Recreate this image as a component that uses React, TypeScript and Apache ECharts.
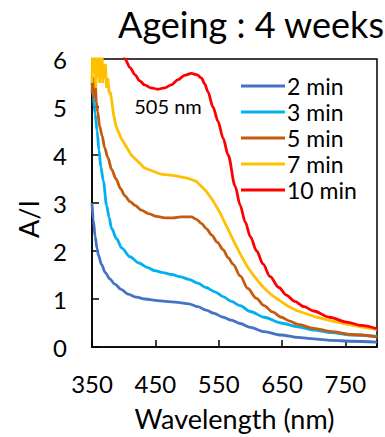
import React, { useEffect, useRef } from "react";
import * as echarts from "echarts";

const seriesNames = ["2 min", "3 min", "5 min", "7 min", "10 min"];
const seriesColors = ["#4472C4", "#00B0F0", "#C55A11", "#FFC000", "#FF0000"];

const min2: [number, number][] = [
  [350, 3.0], [352, 2.65], [355, 2.3], [358, 2.05], [360, 1.92], [365, 1.72], [371, 1.55], [378, 1.42],
  [386, 1.31], [396, 1.2], [407, 1.1], [420, 1.04], [434, 1.0], [450, 0.97], [466, 0.95], [485, 0.93],
  [503, 0.9], [517, 0.84], [530, 0.77], [543, 0.7], [557, 0.62], [570, 0.56], [584, 0.49], [600, 0.41],
  [622, 0.32], [648, 0.25], [675, 0.2], [700, 0.17], [728, 0.14], [760, 0.12], [800, 0.1],
];
const min3: [number, number][] = [
  [350, 5.5], [352, 5.2], [355, 4.85], [358, 4.5], [361, 4.1], [364, 3.75], [368, 3.45], [373, 2.95],
  [377, 2.7], [381, 2.47], [389, 2.25], [397, 2.06], [410, 1.88], [424, 1.75], [437, 1.66], [449, 1.59],
  [462, 1.55], [476, 1.51], [490, 1.46], [503, 1.41], [517, 1.33], [530, 1.24], [544, 1.15], [557, 1.05],
  [570, 0.95], [584, 0.86], [600, 0.74], [622, 0.62], [648, 0.5], [675, 0.42], [700, 0.35], [728, 0.3],
  [760, 0.25], [800, 0.22],
];
const min5: [number, number][] = [
  [350, 5.3], [352, 5.6], [353, 5.2], [355, 5.5], [357, 5.1], [359, 4.9], [362, 4.6], [366, 4.4],
  [370, 4.15], [375, 3.95], [381, 3.7], [388, 3.5], [395, 3.3], [402, 3.15], [410, 3.03], [418, 2.95],
  [428, 2.85], [439, 2.78], [452, 2.72], [465, 2.69], [478, 2.69], [491, 2.71], [507, 2.71], [515, 2.66],
  [523, 2.57], [531, 2.46], [539, 2.33], [548, 2.18], [557, 2.03], [565, 1.86], [573, 1.72], [584, 1.48],
  [596, 1.22], [609, 1.02], [622, 0.86], [635, 0.73], [649, 0.62], [662, 0.54], [675, 0.47], [700, 0.39],
  [728, 0.32], [760, 0.26], [800, 0.21],
];
const min7: [number, number][] = [
  [350, 5.5], [351, 6.2], [352, 5.7], [353, 6.3], [354, 5.8], [355, 6.0], [356, 5.4], [357, 6.2],
  [358, 5.6], [359, 6.3], [360, 5.9], [362, 5.5], [363, 6.2], [364, 5.7], [366, 6.1], [367, 5.5],
  [368, 5.9], [370, 5.6], [371, 5.9], [373, 5.4], [375, 5.6], [377, 5.3], [379, 5.3], [381, 5.15],
  [384, 4.85], [388, 4.6], [396, 4.35], [412, 4.0], [433, 3.73], [459, 3.6], [480, 3.57], [500, 3.52],
  [515, 3.45], [530, 3.25], [541, 3.05], [552, 2.8], [563, 2.5], [574, 2.2], [584, 1.94], [594, 1.7],
  [605, 1.49], [620, 1.25], [634, 1.08], [647, 0.96], [660, 0.85], [673, 0.76], [700, 0.64], [726, 0.55],
  [750, 0.48], [775, 0.42], [800, 0.36],
];
const min10: [number, number][] = [
  [395, 6.3], [402, 6.0], [410, 5.82], [418, 5.67], [425, 5.55], [433, 5.46], [443, 5.4], [454, 5.37],
  [465, 5.4], [475, 5.46], [486, 5.57], [496, 5.66], [507, 5.7], [516, 5.67], [523, 5.6], [528, 5.48],
  [533, 5.32], [541, 5.0], [549, 4.7], [557, 4.35], [565, 4.0], [576, 3.35], [584, 2.95], [592, 2.6],
  [600, 2.3], [610, 2.0], [620, 1.73], [631, 1.47], [645, 1.24], [657, 1.08], [670, 0.95], [685, 0.84],
  [700, 0.75], [725, 0.62], [752, 0.52], [775, 0.45], [800, 0.38],
];
const allSeries = [min2, min3, min5, min7, min10];

const xTicks = [350, 450, 550, 650, 750];
const titleText = "Ageing : 4 weeks";
const peakLabel = "505 nm";
const xName = "Wavelength (nm)";
const yName = "A/I";

const FONT = "Lato";

export default function App() {
  const ref = useRef<HTMLDivElement>(null);
  useEffect(() => {
    if (!ref.current) return;
    const chart = echarts.init(ref.current, undefined, { renderer: "svg" });
    chart.setOption({
      animation: false,
      backgroundColor: "#ffffff",
      textStyle: { fontFamily: FONT },
      grid: {
        left: 92, right: 8, top: 59, bottom: 87,
        show: true, borderColor: "#000", borderWidth: 1.5, backgroundColor: "transparent",
      },
      title: {
        text: titleText, left: 246, top: 1, textAlign: "center",
        textStyle: { fontFamily: FONT, fontSize: 36, fontWeight: "normal", color: "#000" },
      },
      legend: {
        orient: "vertical", left: 236, top: 69, itemWidth: 44, itemHeight: 3, itemGap: 2,
        icon: "rect",
        textStyle: { fontFamily: FONT, fontSize: 23, color: "#000", lineHeight: 24, padding: [0, 0, 0, -3] },
        data: seriesNames,
      },
      xAxis: {
        type: "value", min: 350, max: 800, interval: 100,
        name: xName, nameLocation: "middle", nameGap: 58,
        nameTextStyle: { fontFamily: FONT, fontSize: 27, color: "#000" },
        axisLine: { lineStyle: { color: "#000", width: 1.5 } },
        axisTick: { inside: true, length: 7, lineStyle: { color: "#000", width: 1.5 } },
        axisLabel: {
          fontFamily: FONT, fontSize: 24, color: "#000", margin: 24,
          formatter: (v: number) => (xTicks.includes(v) ? String(v) : ""),
        },
        splitLine: { show: false },
      },
      yAxis: {
        type: "value", min: 0, max: 6, interval: 1,
        axisLine: { lineStyle: { color: "#000", width: 1.5 } },
        axisTick: { inside: true, length: 7, lineStyle: { color: "#000", width: 1.5 } },
        axisLabel: { fontFamily: FONT, fontSize: 24, color: "#000", margin: 25 },
        splitLine: { show: false },
      },
      graphic: [
        {
          type: "text", x: 28, y: 219, rotation: Math.PI / 2,
          style: { text: yName, fontFamily: FONT, fontSize: 27, fill: "#000", align: "center", verticalAlign: "middle" },
        },
        {
          type: "text", x: 168, y: 106,
          style: { text: peakLabel, fontFamily: FONT, fontSize: 20, fill: "#000", align: "center", verticalAlign: "middle" },
        },
      ],
      series: allSeries.map((d, i) => ({
        name: seriesNames[i],
        type: "line",
        data: d,
        showSymbol: false,
        symbol: "none",
        smooth: i === 3 ? false : 0.3,
        smoothMonotone: "x",
        clip: true,
        lineStyle: { color: seriesColors[i], width: 2.8 },
        itemStyle: { color: seriesColors[i] },
      })),
    });
    return () => chart.dispose();
  }, []);
  return <div ref={ref} style={{ width: 385, height: 437, position: "absolute", left: 0, top: 0 }} />;
}
